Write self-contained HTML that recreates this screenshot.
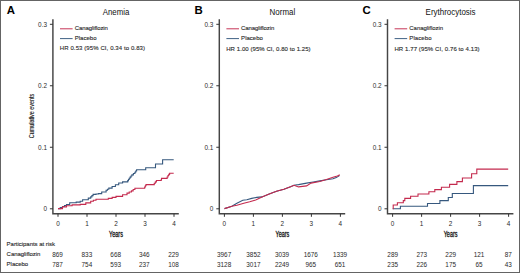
<!DOCTYPE html>
<html><head><meta charset="utf-8">
<style>
html,body{margin:0;padding:0;background:#fff;}
body{width:520px;height:273px;overflow:hidden;}
svg{display:block;}
text{font-family:"Liberation Sans",sans-serif;}
</style></head>
<body>
<svg width="520" height="273" viewBox="0 0 520 273">
<rect x="0" y="0" width="520" height="273" fill="#fff"/>
<rect x="0.5" y="0.5" width="519" height="272" fill="none" stroke="#646464" stroke-width="1"/>

<g>
<text x="6.8" y="14.3" font-size="11.4" font-weight="bold" fill="#000">A</text>
<text x="116" y="14.7" font-size="8.8" text-anchor="middle" textLength="26.6" lengthAdjust="spacingAndGlyphs" fill="#111">Anemia</text>
<path d="M52.9,19.2 V213.8 H178.8" stroke="#454545" stroke-width="1.45" fill="none"/>
<path d="M49.9,24.3 H52.9 M49.9,85.75 H52.9 M49.9,147.25 H52.9 M49.9,208.8 H52.9 M58,213.8 V216.8 M87,213.8 V216.8 M116,213.8 V216.8 M145,213.8 V216.8 M174,213.8 V216.8" stroke="#333" stroke-width="1" fill="none"/>
<text x="47" y="26.6" font-size="6.4" text-anchor="end" fill="#2a2a2a">0.3</text>
<text x="47" y="88.05" font-size="6.4" text-anchor="end" fill="#2a2a2a">0.2</text>
<text x="47" y="149.55" font-size="6.4" text-anchor="end" fill="#2a2a2a">0.1</text>
<text x="47" y="211.1" font-size="6.4" text-anchor="end" fill="#2a2a2a">0</text>
<text x="58" y="225.5" font-size="6.4" text-anchor="middle" fill="#2a2a2a">0</text>
<text x="87" y="225.5" font-size="6.4" text-anchor="middle" fill="#2a2a2a">1</text>
<text x="116" y="225.5" font-size="6.4" text-anchor="middle" fill="#2a2a2a">2</text>
<text x="145" y="225.5" font-size="6.4" text-anchor="middle" fill="#2a2a2a">3</text>
<text x="174" y="225.5" font-size="6.4" text-anchor="middle" fill="#2a2a2a">4</text>
<text x="116" y="236.7" font-size="8.2" text-anchor="middle" textLength="13.8" lengthAdjust="spacingAndGlyphs" fill="#111" stroke="#111" stroke-width="0.3">Years</text>
<path d="M60,28.8 H72.6" stroke="#c42a4e" stroke-width="0.95" fill="none"/>
<path d="M60,38.6 H72.6" stroke="#36587e" stroke-width="0.95" fill="none"/>
<text x="74.7" y="30.3" font-size="6.0" textLength="33.2" lengthAdjust="spacing" fill="#2a2a2a" stroke="#2a2a2a" stroke-width="0.12">Canagliflozin</text>
<text x="74.7" y="40" font-size="6.0" textLength="21.8" lengthAdjust="spacing" fill="#2a2a2a" stroke="#2a2a2a" stroke-width="0.12">Placebo</text>
<text x="59.8" y="49.5" font-size="6.0" textLength="85.2" lengthAdjust="spacing" fill="#2a2a2a" stroke="#2a2a2a" stroke-width="0.12">HR 0.53 (95% CI, 0.34 to 0.83)</text>
</g>
<g>
<text x="194.6" y="14.3" font-size="11.4" font-weight="bold" fill="#000">B</text>
<text x="282.4" y="14.7" font-size="8.8" text-anchor="middle" textLength="25.6" lengthAdjust="spacingAndGlyphs" fill="#111">Normal</text>
<path d="M219.3,19.2 V213.8 H345.2" stroke="#454545" stroke-width="1.45" fill="none"/>
<path d="M216.3,24.3 H219.3 M216.3,85.75 H219.3 M216.3,147.25 H219.3 M216.3,208.8 H219.3 M224.4,213.8 V216.8 M253.4,213.8 V216.8 M282.4,213.8 V216.8 M311.4,213.8 V216.8 M340.4,213.8 V216.8" stroke="#333" stroke-width="1" fill="none"/>
<text x="213.4" y="26.6" font-size="6.4" text-anchor="end" fill="#2a2a2a">0.3</text>
<text x="213.4" y="88.05" font-size="6.4" text-anchor="end" fill="#2a2a2a">0.2</text>
<text x="213.4" y="149.55" font-size="6.4" text-anchor="end" fill="#2a2a2a">0.1</text>
<text x="213.4" y="211.1" font-size="6.4" text-anchor="end" fill="#2a2a2a">0</text>
<text x="224.4" y="225.5" font-size="6.4" text-anchor="middle" fill="#2a2a2a">0</text>
<text x="253.4" y="225.5" font-size="6.4" text-anchor="middle" fill="#2a2a2a">1</text>
<text x="282.4" y="225.5" font-size="6.4" text-anchor="middle" fill="#2a2a2a">2</text>
<text x="311.4" y="225.5" font-size="6.4" text-anchor="middle" fill="#2a2a2a">3</text>
<text x="340.4" y="225.5" font-size="6.4" text-anchor="middle" fill="#2a2a2a">4</text>
<text x="282.4" y="236.7" font-size="8.2" text-anchor="middle" textLength="13.8" lengthAdjust="spacingAndGlyphs" fill="#111" stroke="#111" stroke-width="0.3">Years</text>
<path d="M226.4,28.8 H239" stroke="#c42a4e" stroke-width="0.95" fill="none"/>
<path d="M226.4,38.6 H239" stroke="#36587e" stroke-width="0.95" fill="none"/>
<text x="241.1" y="30.3" font-size="6.0" textLength="33.2" lengthAdjust="spacing" fill="#2a2a2a" stroke="#2a2a2a" stroke-width="0.12">Canagliflozin</text>
<text x="241.1" y="40" font-size="6.0" textLength="21.8" lengthAdjust="spacing" fill="#2a2a2a" stroke="#2a2a2a" stroke-width="0.12">Placebo</text>
<text x="226.2" y="51.2" font-size="6.0" textLength="84.4" lengthAdjust="spacing" fill="#2a2a2a" stroke="#2a2a2a" stroke-width="0.12">HR 1.00 (95% CI, 0.80 to 1.25)</text>
</g>
<g>
<text x="362.6" y="14.3" font-size="11.4" font-weight="bold" fill="#000">C</text>
<text x="450.6" y="14.7" font-size="8.8" text-anchor="middle" textLength="50" lengthAdjust="spacingAndGlyphs" fill="#111">Erythrocytosis</text>
<path d="M387.5,19.2 V213.8 H513.4" stroke="#454545" stroke-width="1.45" fill="none"/>
<path d="M384.5,24.3 H387.5 M384.5,85.75 H387.5 M384.5,147.25 H387.5 M384.5,208.8 H387.5 M392.6,213.8 V216.8 M421.6,213.8 V216.8 M450.6,213.8 V216.8 M479.6,213.8 V216.8 M508.6,213.8 V216.8" stroke="#333" stroke-width="1" fill="none"/>
<text x="381.6" y="26.6" font-size="6.4" text-anchor="end" fill="#2a2a2a">0.3</text>
<text x="381.6" y="88.05" font-size="6.4" text-anchor="end" fill="#2a2a2a">0.2</text>
<text x="381.6" y="149.55" font-size="6.4" text-anchor="end" fill="#2a2a2a">0.1</text>
<text x="381.6" y="211.1" font-size="6.4" text-anchor="end" fill="#2a2a2a">0</text>
<text x="392.6" y="225.5" font-size="6.4" text-anchor="middle" fill="#2a2a2a">0</text>
<text x="421.6" y="225.5" font-size="6.4" text-anchor="middle" fill="#2a2a2a">1</text>
<text x="450.6" y="225.5" font-size="6.4" text-anchor="middle" fill="#2a2a2a">2</text>
<text x="479.6" y="225.5" font-size="6.4" text-anchor="middle" fill="#2a2a2a">3</text>
<text x="508.6" y="225.5" font-size="6.4" text-anchor="middle" fill="#2a2a2a">4</text>
<text x="450.6" y="236.7" font-size="8.2" text-anchor="middle" textLength="13.8" lengthAdjust="spacingAndGlyphs" fill="#111" stroke="#111" stroke-width="0.3">Years</text>
<path d="M394.6,28.8 H407.2" stroke="#c42a4e" stroke-width="0.95" fill="none"/>
<path d="M394.6,38.6 H407.2" stroke="#36587e" stroke-width="0.95" fill="none"/>
<text x="409.3" y="30.3" font-size="6.0" textLength="33.8" lengthAdjust="spacing" fill="#2a2a2a" stroke="#2a2a2a" stroke-width="0.12">Canagliflozin</text>
<text x="409.3" y="40" font-size="6.0" textLength="22.2" lengthAdjust="spacing" fill="#2a2a2a" stroke="#2a2a2a" stroke-width="0.12">Placebo</text>
<text x="394.4" y="51" font-size="6.0" textLength="85.2" lengthAdjust="spacing" fill="#2a2a2a" stroke="#2a2a2a" stroke-width="0.12">HR 1.77 (95% CI, 0.76 to 4.13)</text>
</g>
<text transform="translate(33.7,116) rotate(-90)" x="0" y="0" font-size="7.2" text-anchor="middle" textLength="44.4" lengthAdjust="spacingAndGlyphs" fill="#111" stroke="#111" stroke-width="0.12">Cumulative events</text>
<path d="M58,208.6 H60.25 V207.55 H62.5 V206.5 H64.5 V205.5 H66.5 V204.5 H69.7 V202.7 H76.2 V202.1 H80.2 V201.3 H82.6 V199.7 H88.3 V198.1 H90.7 V196.9 H91.9 V195.65 H93.1 V194.4 H96 V194 H98.4 V193.6 H101.7 V192 H106.1 V190.3 H107.45 V189.2 H108.8 V188.1 H112.1 V186.5 H115.4 V184.8 H118.7 V183 H122.6 V181.9 H127 H127.73 V180.67 H128.47 V179.43 H129.2 V178.2 H130.1 V177.1 H131 V176 H131.9 V174.9 H133.4 V173.55 H134.9 V172.2 H135.75 V171 H136.6 V169.8 H145.7 V167.8 H155.5 V164 H162.6 V159.7 H173.7" stroke="#36587e" stroke-width="1.1" fill="none" stroke-linejoin="miter"/>
<path d="M58,208.6 H62.5 V206.9 H66.5 V205.7 H72.1 V204.9 H80.2 V204.4 H85.8 V202.9 H90.7 V201.3 H93.35 V200.3 H96 V199.3 H100.6 H108.3 V198.4 H112.15 V197.4 H116 V196.4 H122.6 V194.7 H127 V193.1 H129.2 V192 H131.4 V190.9 H133.15 V189.55 H134.9 V188.2 H144 H144.67 V186.93 H145.33 V185.77 H146 V184.6 H153.2 H154.27 V183.23 H155.33 V181.87 H156.4 V180.5 H161 H161.25 V179.45 H161.5 V178.4 H166.3 H167.15 V176.95 H168 V175.5 H168.8 V174.4 H169.6 V173.3 H173.7" stroke="#c42a4e" stroke-width="1.1" fill="none" stroke-linejoin="miter"/>
<path d="M224.5,208.6 L231.9,206.3 L236.9,203.3 L242.8,200.3 L246.8,199.7 L251.7,198.4 L256.7,197.4 L262,196.9 L269.2,194.1 L276.5,191.3 L283.9,189.2 L291.2,186.5 L294,185.3 L298.5,184.6 L306.6,183.1 L313.2,182 L319.8,180.9 L326.4,179.8 L333,178.7 L336.3,177.6 L339.5,175.6" stroke="#36587e" stroke-width="1.1" fill="none" stroke-linejoin="miter"/>
<path d="M224.5,208.6 L231.9,206.3 L236.9,205.3 L243.8,203.3 L249.7,201.8 L255.7,199.9 L262,196.9 L269.2,194.1 L276.5,191.3 L283.9,189.2 L291.2,186.5 L294,185.3 L298.5,186.9 L306.6,185.9 L311,183.1 L319.8,181.5 L326.4,179.5 L333,177.3 L337.4,176 L339.8,174.7" stroke="#c42a4e" stroke-width="1.1" fill="none" stroke-linejoin="miter"/>
<path d="M392.7,208.7 H400.4 V206.3 H427.5 V203.5 H439.9 V200.6 H448.3 V197.5 H452.3 V193.5 H473.4 V185.6 H508.2" stroke="#36587e" stroke-width="1.1" fill="none" stroke-linejoin="miter"/>
<path d="M392.7,208.7 H393.2 V205 H397.4 V202.8 H403.3 V200.6 H404.8 V198.4 H410.6 V196.2 H418 V194 H428.9 V191.8 H434.8 V189.6 H441.4 V187.3 H449.6 V184.4 H456.9 V181.6 H462.4 V178 H471.6 V173.7 H476.8 V169.1 H508.2" stroke="#c42a4e" stroke-width="1.1" fill="none" stroke-linejoin="miter"/>
<g>
<text x="6.6" y="246.4" font-size="6.0" textLength="48.4" lengthAdjust="spacing" fill="#2a2a2a" stroke="#2a2a2a" stroke-width="0.12">Participants at risk</text>
<text x="6.6" y="256.3" font-size="6.0" textLength="33.8" lengthAdjust="spacing" fill="#2a2a2a" stroke="#2a2a2a" stroke-width="0.12">Canagliflozin</text>
<text x="6.6" y="265.8" font-size="6.0" textLength="21.5" lengthAdjust="spacing" fill="#2a2a2a" stroke="#2a2a2a" stroke-width="0.12">Placebo</text>
<text x="57.5" y="257" font-size="6.4" text-anchor="middle" fill="#2a2a2a">869</text>
<text x="86.9" y="257" font-size="6.4" text-anchor="middle" fill="#2a2a2a">833</text>
<text x="115.7" y="257" font-size="6.4" text-anchor="middle" fill="#2a2a2a">668</text>
<text x="144.3" y="257" font-size="6.4" text-anchor="middle" fill="#2a2a2a">346</text>
<text x="173.6" y="257" font-size="6.4" text-anchor="middle" fill="#2a2a2a">229</text>
<text x="57.5" y="266.5" font-size="6.4" text-anchor="middle" fill="#2a2a2a">787</text>
<text x="86.9" y="266.5" font-size="6.4" text-anchor="middle" fill="#2a2a2a">754</text>
<text x="115.7" y="266.5" font-size="6.4" text-anchor="middle" fill="#2a2a2a">593</text>
<text x="144.3" y="266.5" font-size="6.4" text-anchor="middle" fill="#2a2a2a">237</text>
<text x="173.6" y="266.5" font-size="6.4" text-anchor="middle" fill="#2a2a2a">108</text>
<text x="224.1" y="257" font-size="6.4" text-anchor="middle" fill="#2a2a2a">3967</text>
<text x="253.4" y="257" font-size="6.4" text-anchor="middle" fill="#2a2a2a">3852</text>
<text x="282" y="257" font-size="6.4" text-anchor="middle" fill="#2a2a2a">3039</text>
<text x="310.8" y="257" font-size="6.4" text-anchor="middle" fill="#2a2a2a">1676</text>
<text x="340" y="257" font-size="6.4" text-anchor="middle" fill="#2a2a2a">1339</text>
<text x="224.1" y="266.5" font-size="6.4" text-anchor="middle" fill="#2a2a2a">3128</text>
<text x="253.4" y="266.5" font-size="6.4" text-anchor="middle" fill="#2a2a2a">3017</text>
<text x="282" y="266.5" font-size="6.4" text-anchor="middle" fill="#2a2a2a">2249</text>
<text x="310.8" y="266.5" font-size="6.4" text-anchor="middle" fill="#2a2a2a">965</text>
<text x="340" y="266.5" font-size="6.4" text-anchor="middle" fill="#2a2a2a">651</text>
<text x="392.7" y="257" font-size="6.4" text-anchor="middle" fill="#2a2a2a">289</text>
<text x="421.8" y="257" font-size="6.4" text-anchor="middle" fill="#2a2a2a">273</text>
<text x="450.7" y="257" font-size="6.4" text-anchor="middle" fill="#2a2a2a">229</text>
<text x="479" y="257" font-size="6.4" text-anchor="middle" fill="#2a2a2a">121</text>
<text x="508.3" y="257" font-size="6.4" text-anchor="middle" fill="#2a2a2a">87</text>
<text x="392.7" y="266.5" font-size="6.4" text-anchor="middle" fill="#2a2a2a">235</text>
<text x="421.8" y="266.5" font-size="6.4" text-anchor="middle" fill="#2a2a2a">226</text>
<text x="450.7" y="266.5" font-size="6.4" text-anchor="middle" fill="#2a2a2a">175</text>
<text x="479" y="266.5" font-size="6.4" text-anchor="middle" fill="#2a2a2a">65</text>
<text x="508.3" y="266.5" font-size="6.4" text-anchor="middle" fill="#2a2a2a">43</text>
</g>
</svg>
</body></html>
